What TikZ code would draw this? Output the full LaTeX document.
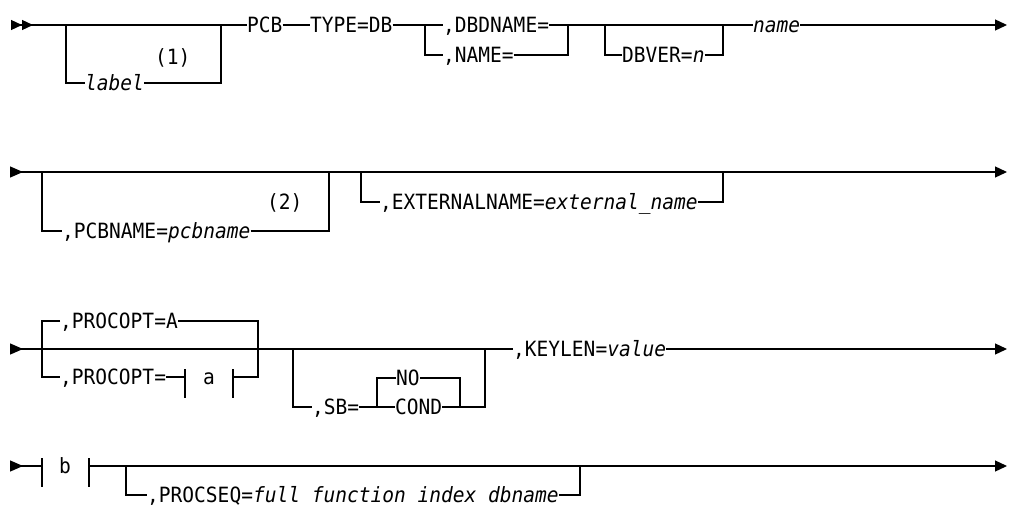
\documentclass[tikz,border=0pt]{standalone}
\usepackage{fontspec}
\setmonofont[FakeStretch=0.93]{DejaVu Sans Mono}
\usetikzlibrary{arrows.meta}
\newcommand{\railfont}{\ttfamily\fontsize{21}{24}\selectfont}
\tikzset{
	rail/.style={line width=1.25pt, color=black},
	kw/.style={
		font=\railfont, inner sep=0pt,
		text height=20pt, text depth=5pt, anchor=west
	},
	var/.style={kw, font=\railfont\itshape},
	begin1/.style={{Triangle[reversed, length=13pt, width=11pt]}-},
	begin2/.style={{Triangle[reversed, length=11pt, width=10pt, sep=0pt]Triangle[reversed, length=11pt, width=10pt]}-},
	finish/.style={-{Triangle[length=12pt, width=11pt]}}
}

\begin{document}
\begin{tikzpicture}[x=1pt, y=-1pt]
	\useasboundingbox (0,0) rectangle (1009,506);
	
	%% ---------------------------------
	%%  ROW 1 -- PCB TYPE=DB
	%% ---------------------------------
	\coordinate (s1) at (11,25);
	\coordinate (e1) at (1007,25);
	\coordinate (o1l) at (66,25);
	\coordinate (o1r) at (221,25);
	\coordinate (c1l) at (425,25);
	\coordinate (c1r) at (568,25);
	\coordinate (o2l) at (605,25);
	\coordinate (o2r) at (723,25);
	
	\node[var] (label) at (85,83)  {label};
	\node[kw]  (note1) at (155,57) {(1)};
	\node[kw]  (pcb)   at (247,25) {PCB};
	\node[kw]  (type)  at (310,25) {TYPE=DB};
	\node[kw]  (dbd)   at (443,25) {,DBDNAME=};
	\node[kw]  (nm)    at (443,55) {,NAME=};
	\node[kw]  (dbver) at (622,55) {DBVER=\textit{n}};
	\node[var] (name)  at (753,25) {name};
	
	\draw[rail, begin2] (s1) -- (pcb.west);
	\draw[rail] (o1l) |- (label.west);
	\draw[rail] (label.east) -| (o1r);
	\draw[rail] (pcb.east) -- (type.west);
	\draw[rail] (type.east) -- (dbd.west);
	\draw[rail] (c1l) |- (nm.west);
	\draw[rail] (dbd.east) -- (name.west);
	\draw[rail] (nm.east) -| (c1r);
	\draw[rail] (o2l) |- (dbver.west);
	\draw[rail] (dbver.east) -| (o2r);
	\draw[rail, finish] (name.east) -- (e1);
	
	%% ---------------------------------
	%%  ROW 2 -- PCBNAME / EXTERNALNAME
	%% ---------------------------------
	\coordinate (s2) at (10,172);
	\coordinate (e2) at (1007,172);
	\coordinate (o3l) at (42,172);
	\coordinate (o3r) at (329,172);
	\coordinate (o4l) at (361,172);
	\coordinate (o4r) at (723,172);
	
	\node[kw] (pcbn)  at (62,231)  {,PCBNAME=\textit{pcbname}};
	\node[kw] (note2) at (267,202) {(2)};
	\node[kw] (ext)   at (380,202) {,EXTERNALNAME=\textit{external\_name}};
	
	\draw[rail, begin1] (s2) -- (o3l);
	\draw[rail, finish] (o3l) -- (e2);
	\draw[rail] (o3l) |- (pcbn.west);
	\draw[rail] (pcbn.east) -| (o3r);
	\draw[rail] (o4l) |- (ext.west);
	\draw[rail] (ext.east) -| (o4r);
	
	%% ---------------------------------
	%%  ROW 3 -- PROCOPT / SB / KEYLEN
	%% ---------------------------------
	\coordinate (s3) at (10,349);
	\coordinate (e3) at (1007,349);
	\coordinate (c3l) at (42,349);
	\coordinate (c3r) at (258,349);
	\coordinate (ta1) at (185,377);
	\coordinate (ta2) at (233,377);
	\coordinate (o5l) at (293,349);
	\coordinate (o5r) at (485,349);
	\coordinate (c4l) at (377,407);
	\coordinate (c4r) at (460,407);
	
	\node[kw] (pa)   at (60,321)  {,PROCOPT=A};
	\node[kw] (pb)   at (60,377)  {,PROCOPT=};
	\node[kw, anchor=center] (fa) at (209,377) {a};
	\node[kw] (sb)   at (312,407) {,SB=};
	\node[kw] (no)   at (396,378) {NO};
	\node[kw] (cond) at (395,407) {COND};
	\node[kw] (kl)   at (513,349) {,KEYLEN=\textit{value}};
	
	\draw[rail, begin1] (s3) -- (c3l);
	\draw[rail] (c3l) -- (kl.west);
	\draw[rail, finish] (kl.east) -- (e3);
	\draw[rail] (pa.west) -| (c3l) |- (pb.west);
	\draw[rail] (pa.east) -| (c3r);
	\draw[rail] (pb.east) -- (ta1);
	\draw[rail] (ta1) ++(0,-8) -- ++(0,29);
	\draw[rail] (ta2) ++(0,-8) -- ++(0,29);
	\draw[rail] (ta2) -| (c3r);
	\draw[rail] (o5l) |- (sb.west);
	\draw[rail] (sb.east) -- (cond.west);
	\draw[rail] (no.west) -| (c4l);
	\draw[rail] (no.east) -| (c4r);
	\draw[rail] (cond.east) -- (c4r) -| (o5r);
	
	%% ---------------------------------
	%%  ROW 4 -- b / PROCSEQ
	%% ---------------------------------
	\coordinate (s4) at (10,466);
	\coordinate (e4) at (1007,466);
	\coordinate (tb1) at (42,466);
	\coordinate (tb2) at (89,466);
	\coordinate (o6l) at (126,466);
	\coordinate (o6r) at (580,466);
	
	\node[kw, anchor=center] (fb) at (65,466) {b};
	\node[kw] (ps) at (147,495) {,PROCSEQ=\textit{full function index dbname}};
	
	\draw[rail, begin1] (s4) -- (tb1);
	\draw[rail] (tb1) ++(0,-8) -- ++(0,29);
	\draw[rail] (tb2) ++(0,-8) -- ++(0,29);
	\draw[rail, finish] (tb2) -- (e4);
	\draw[rail] (o6l) |- (ps.west);
	\draw[rail] (ps.east) -| (o6r);
\end{tikzpicture}
\end{document}
